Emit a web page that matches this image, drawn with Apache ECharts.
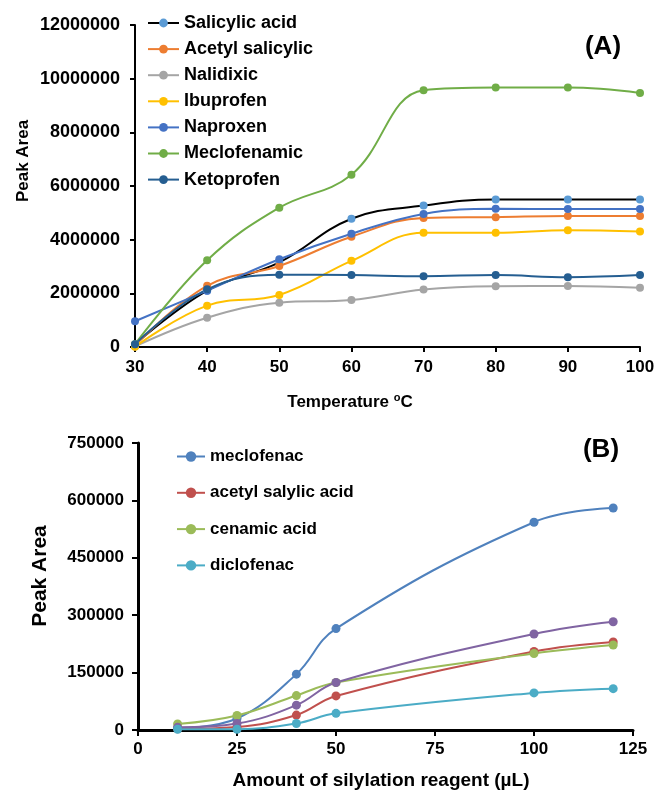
<!DOCTYPE html>
<html>
<head>
<meta charset="utf-8">
<script src="https://cdn.jsdelivr.net/npm/echarts@6/dist/echarts.min.js"></script>
<style>html,body{margin:0;padding:0;background:#fff}#c{width:659px;height:795px}</style>
</head>
<body>
<div id="c"></div>
<script>
// ---- Panel A data ----
var tempX = [30, 40, 50, 60, 70, 80, 90, 100];
var salicylic = [100000, 2100000, 3150000, 4780000, 5270000, 5500000, 5500000, 5500000];
var acetylSalicylic = [50000, 2280000, 3020000, 4110000, 4810000, 4840000, 4880000, 4880000];
var nalidixic = [20000, 1090000, 1650000, 1750000, 2140000, 2260000, 2270000, 2210000];
var ibuprofen = [10000, 1540000, 1940000, 3210000, 4260000, 4260000, 4350000, 4300000];
var naproxen = [960000, 2100000, 3270000, 4220000, 4960000, 5150000, 5140000, 5140000];
var meclofenamic = [100000, 3230000, 5190000, 6420000, 9570000, 9670000, 9670000, 9470000];
var ketoprofen = [100000, 2150000, 2690000, 2680000, 2640000, 2680000, 2600000, 2680000];
var namesA = ['Salicylic acid', 'Acetyl salicylic', 'Nalidixic', 'Ibuprofen', 'Naproxen', 'Meclofenamic', 'Ketoprofen'];
var yTicksA = [0, 2000000, 4000000, 6000000, 8000000, 10000000, 12000000];

// ---- Panel B data ----
var reagentX = [10, 25, 40, 50, 100, 120];
var meclofenac = [5000, 30000, 146000, 265000, 543000, 580000];
var acetylSalylicAcid = [3000, 8000, 39000, 89000, 205000, 230000];
var cenamicAcid = [15700, 38000, 90000, 124000, 200000, 222000];
var unlabeledPurple = [7000, 17000, 65000, 124000, 251000, 283000];
var diclofenac = [2000, 2000, 17000, 43500, 97000, 108000];
var namesB = ['meclofenac', 'acetyl salylic acid', 'cenamic acid', 'diclofenac'];
var yTicksB = [0, 150000, 300000, 450000, 600000, 750000];

var FONT = '"Liberation Sans", Arial, sans-serif';

function pairs(xs, ys) { return xs.map(function (x, i) { return [x, ys[i]]; }); }

function lineA(name, data, lineColor, markColor) {
  return {
    name: name, type: 'line', xAxisIndex: 0, yAxisIndex: 0,
    data: pairs(tempX, data), smooth: 0.4,
    symbol: 'circle', symbolSize: 8,
    lineStyle: { color: lineColor, width: 2 },
    itemStyle: { color: markColor || lineColor },
    emphasis: { disabled: true }, animation: false
  };
}
function lineB(name, data, color) {
  return {
    name: name, type: 'line', xAxisIndex: 1, yAxisIndex: 1,
    data: pairs(reagentX, data), smooth: 0.4,
    symbol: 'circle', symbolSize: 9,
    lineStyle: { color: color, width: 2 },
    itemStyle: { color: color },
    emphasis: { disabled: true }, animation: false
  };
}

var plain = function (v) { return String(v); };
var axisLine = { show: true, lineStyle: { color: '#000', width: 2 } };
var axisTick = { show: true, inside: false, length: 5, lineStyle: { color: '#000', width: 2 } };
var lblStyle = { color: '#000', fontFamily: FONT, fontWeight: 'bold', fontSize: 17, formatter: plain };

var chart = echarts.init(document.getElementById('c'));
chart.setOption({
  animation: false,
  backgroundColor: '#fff',
  grid: [
    { left: 135, right: 19, top: 25, bottom: 448 },
    { left: 138, right: 26, top: 443, bottom: 65 }
  ],
  xAxis: [
    { type: 'value', gridIndex: 0, min: 30, max: 100, interval: 10,
      axisLine: axisLine, axisTick: axisTick, splitLine: { show: false },
      axisLabel: Object.assign({ margin: 12 }, lblStyle) },
    { type: 'value', gridIndex: 1, min: 0, max: 125, interval: 25,
      axisLine: { show: true, lineStyle: { color: '#000', width: 3 } },
      axisTick: { show: true, length: 6, lineStyle: { color: '#000', width: 2 } },
      splitLine: { show: false },
      axisLabel: Object.assign({ margin: 11 }, lblStyle) }
  ],
  yAxis: [
    { type: 'value', gridIndex: 0, min: yTicksA[0], max: yTicksA[yTicksA.length - 1], interval: yTicksA[1] - yTicksA[0],
      axisLine: axisLine, axisTick: axisTick, splitLine: { show: false },
      axisLabel: Object.assign({}, lblStyle, { margin: 15, fontSize: 18 }) },
    { type: 'value', gridIndex: 1, min: yTicksB[0], max: yTicksB[yTicksB.length - 1], interval: yTicksB[1] - yTicksB[0],
      axisLine: { show: true, lineStyle: { color: '#000', width: 3 } },
      axisTick: { show: true, length: 6, lineStyle: { color: '#000', width: 2 } },
      splitLine: { show: false },
      axisLabel: Object.assign({ margin: 14 }, lblStyle) }
  ],
  legend: [
    { data: namesA, orient: 'vertical', left: 147, top: 14, padding: 0, itemWidth: 31, itemHeight: 11, itemGap: 8.1,
      textStyle: { color: '#000', fontFamily: FONT, fontWeight: 'bold', fontSize: 18 }, selectedMode: false },
    { data: namesB, orient: 'vertical', left: 176, top: 448, padding: 0, itemWidth: 28, itemHeight: 13, itemGap: 19.3,
      textStyle: { color: '#000', fontFamily: FONT, fontWeight: 'bold', fontSize: 17 }, selectedMode: false }
  ],
  graphic: [
    { type: 'text', x: 603, y: 47, style: { text: '(A)', fill: '#000', font: 'bold 26px ' + FONT, align: 'center', verticalAlign: 'middle' } },
    { type: 'text', x: 601, y: 450, style: { text: '(B)', fill: '#000', font: 'bold 26px ' + FONT, align: 'center', verticalAlign: 'middle' } },
    { type: 'text', x: 23, y: 161, rotation: Math.PI / 2, style: { text: 'Peak Area', fill: '#000', font: 'bold 17px ' + FONT, align: 'center', verticalAlign: 'middle' } },
    { type: 'text', x: 350, y: 402, style: {
        text: '{a|Temperature }{s|o}{a|C}', align: 'center', verticalAlign: 'middle',
        rich: {
          a: { fill: '#000', fontFamily: FONT, fontWeight: 'bold', fontSize: 17, lineHeight: 20 },
          s: { fill: '#000', fontFamily: FONT, fontWeight: 'bold', fontSize: 11, lineHeight: 20, verticalAlign: 'top', padding: [0, 0, 8, 0] }
        } } },
    { type: 'text', x: 40, y: 576, rotation: Math.PI / 2, style: { text: 'Peak Area', fill: '#000', font: 'bold 21px ' + FONT, align: 'center', verticalAlign: 'middle' } },
    { type: 'text', x: 381, y: 781, style: { text: 'Amount of silylation reagent (µL)', fill: '#000', font: 'bold 19px ' + FONT, align: 'center', verticalAlign: 'middle' } }
  ],
  series: [
    lineA(namesA[0], salicylic, '#000000', '#5B9BD5'),
    lineA(namesA[1], acetylSalicylic, '#ED7D31'),
    lineA(namesA[2], nalidixic, '#A5A5A5'),
    lineA(namesA[3], ibuprofen, '#FFC000'),
    lineA(namesA[4], naproxen, '#4472C4'),
    lineA(namesA[5], meclofenamic, '#70AD47'),
    lineA(namesA[6], ketoprofen, '#255E91'),
    lineB(namesB[0], meclofenac, '#4F81BD'),
    lineB(namesB[1], acetylSalylicAcid, '#C0504D'),
    lineB(namesB[2], cenamicAcid, '#9BBB59'),
    lineB('purple series', unlabeledPurple, '#8064A2'),
    lineB(namesB[3], diclofenac, '#4BACC6')
  ]
});
</script>
</body>
</html>
